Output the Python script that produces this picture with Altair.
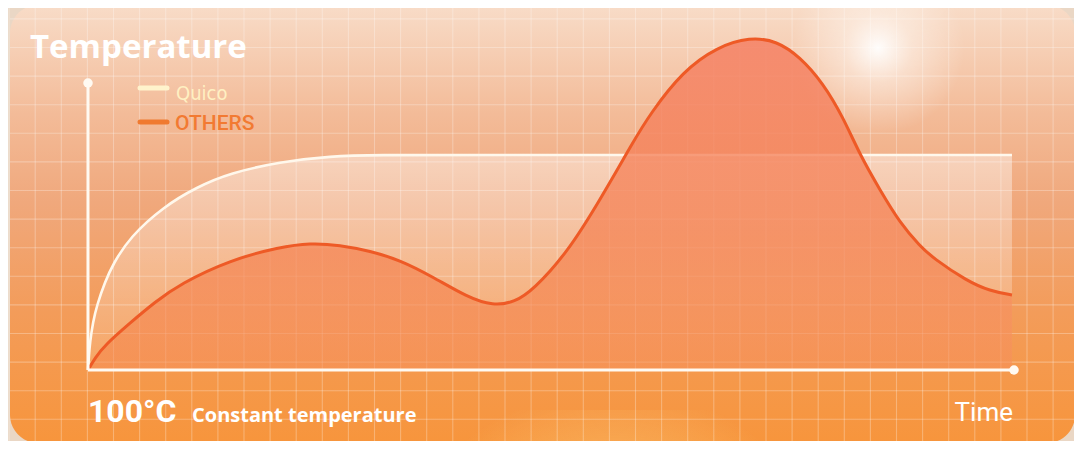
import altair as alt
import pandas as pd

# ---- data (time in % of span, temperature in arbitrary units) ----
others_t = [0, 0.756, 1.836, 4.536, 7.235, 9.935, 15.33, 20.73, 23.97, 27.21, 30.45, 33.69, 37.26,
            40.93, 43.74, 46.11, 48.06, 51.73, 55.29, 58.86, 60.69, 64.25, 67.93, 71.49, 74.41,
            76.89, 79.37, 81.53, 83.37, 85.53, 87.69, 89.85, 91.25, 94.92, 97.41, 99.78]
others_v = [0, 12, 25, 47, 68, 86, 110, 123, 127, 125, 119, 110, 93,
            73, 64, 68, 80, 117, 170, 228, 256, 299, 323, 333, 329,
            313, 287, 253, 215, 180, 147, 124, 112, 89, 79, 75]
quico_t = [0, 0.1, 0.216, 0.54, 0.97, 1.836, 2.7, 4.536, 8.1, 11.77, 15.33, 20.73, 26.13, 31.5, 40.0, 99.78]
quico_v = [0, 14, 28, 48, 65, 88, 106, 133, 163, 183, 197, 208, 214, 215, 215, 215]

grid_x = [(9.1 + 26.1 * k - 88) / 9.26 for k in range(42)]
grid_y = [370 - (133.3 + 28.6 * j) for j in range(-5, 11)]

others = pd.DataFrame({"t": others_t, "v": others_v})
quico = pd.DataFrame({"t": quico_t, "v": quico_v})
gx = pd.DataFrame({"t": grid_x})
gy = pd.DataFrame({"v": grid_y})

X = alt.X("t:Q", scale=alt.Scale(domain=[0, 100], nice=False, zero=False), axis=None)
Y = alt.Y("v:Q", scale=alt.Scale(domain=[0, 350], nice=False, zero=False), axis=None)

one = pd.DataFrame({"a": [0]})

card = alt.Chart(one).mark_rect(
    cornerRadius=28,
    fill=alt.Gradient(gradient="linear", x1=0, x2=0, y1=0, y2=1,
                      stops=[alt.GradientStop(color="#f8dcc8", offset=0),
                             alt.GradientStop(color="#f3bb98", offset=0.25),
                             alt.GradientStop(color="#f0a87c", offset=0.45),
                             alt.GradientStop(color="#f39c5a", offset=0.7),
                             alt.GradientStop(color="#f7953c", offset=1)]),
).encode(x=alt.value(-78), x2=alt.value(987), y=alt.value(-15), y2=alt.value(423))

vgrid = alt.Chart(gx).mark_rule(color="#ffffff", opacity=0.28, strokeWidth=1.1).encode(
    x=X, y=alt.value(-15), y2=alt.value(423))
hgrid = alt.Chart(gy).mark_rule(color="#ffffff", opacity=0.28, strokeWidth=1.1).encode(
    y=Y, x=alt.value(-78), x2=alt.value(987))

flare = alt.Chart(one).mark_circle(
    fill=alt.Gradient(gradient="radial", x1=0.5, y1=0.5, r1=0, x2=0.5, y2=0.5, r2=0.5,
                      stops=[alt.GradientStop(color="rgba(255,255,255,0.95)", offset=0),
                             alt.GradientStop(color="rgba(255,250,245,0.45)", offset=0.4),
                             alt.GradientStop(color="rgba(255,250,245,0)", offset=1)]),
    size=30000, opacity=1,
).encode(x=alt.value(790), y=alt.value(28))

glow = alt.Chart(one).mark_rect(
    fill=alt.Gradient(gradient="radial", x1=0.5, y1=1, r1=0, x2=0.5, y2=1, r2=0.6,
                      stops=[alt.GradientStop(color="rgba(255,240,170,0.85)", offset=0),
                             alt.GradientStop(color="rgba(255,230,150,0)", offset=1)]),
).encode(x=alt.value(330), x2=alt.value(720), y=alt.value(390), y2=alt.value(423))

quico_area = alt.Chart(quico).mark_area(
    interpolate="basis",
    fill=alt.Gradient(gradient="linear", x1=0, x2=0, y1=0, y2=1,
                      stops=[alt.GradientStop(color="rgba(255,255,255,0.42)", offset=0),
                             alt.GradientStop(color="rgba(255,255,255,0.12)", offset=1)]),
).encode(x=X, y=Y)

others_area = alt.Chart(others).mark_area(
    interpolate="basis",
    fill=alt.Gradient(gradient="linear", x1=0, x2=0, y1=0, y2=1,
                      stops=[alt.GradientStop(color="rgba(245,130,102,0.88)", offset=0),
                             alt.GradientStop(color="rgba(245,128,80,0.7)", offset=0.6),
                             alt.GradientStop(color="rgba(245,130,70,0.5)", offset=1)]),
).encode(x=X, y=Y)

quico_line = alt.Chart(quico).mark_line(interpolate="basis", color="#fff8ec", strokeWidth=2.6).encode(x=X, y=Y)
others_line = alt.Chart(others).mark_line(interpolate="basis", color="#ee5a26", strokeWidth=3).encode(x=X, y=Y)

axis_col = "#fffaf2"
yaxis = alt.Chart(one).mark_rule(color=axis_col, strokeWidth=3).encode(
    x=alt.datum(0), y=alt.datum(0), y2=alt.datum(287))
xaxis = alt.Chart(one).mark_rule(color=axis_col, strokeWidth=3).encode(
    y=alt.datum(0), x=alt.datum(0), x2=alt.datum(100))
ydot = alt.Chart(one).mark_circle(color=axis_col, opacity=1, size=90).encode(x=alt.datum(0), y=alt.datum(287))
xdot = alt.Chart(one).mark_circle(color=axis_col, opacity=1, size=90).encode(x=alt.datum(100), y=alt.datum(0))

leg1 = alt.Chart(one).mark_rule(color="#fff3cc", strokeWidth=5, strokeCap="round").encode(
    x=alt.value(52), x2=alt.value(79), y=alt.value(68))
leg2 = alt.Chart(one).mark_rule(color="#f07a30", strokeWidth=5, strokeCap="round").encode(
    x=alt.value(52), x2=alt.value(79), y=alt.value(102))


def label(text, x, y, size, color="#ffffff", weight="bold", font="Roboto", align="left"):
    return alt.Chart(one).mark_text(
        text=text, fontSize=size, fontWeight=weight, font=font, color=color,
        align=align, baseline="alphabetic",
    ).encode(x=alt.value(x), y=alt.value(y))


texts = [
    label("Temperature", -58, 38, 33, font="Open Sans"),
    label("Quico", 88, 80, 20, color="#fff0c2", weight="normal",
          font="'Liberation Sans Narrow', 'DejaVu Sans Condensed', Roboto"),
    label("OTHERS", 87, 110, 21, color="#f27a32", weight=500),
    label("100°C", 0, 402, 32),
    label("Constant temperature", 104, 402, 20, font="Open Sans"),
    label("Time", 925, 401, 26, weight="normal", align="right"),
]

chart = alt.layer(
    card, glow, vgrid, hgrid, flare, quico_area, quico_line, others_area, others_line,
    yaxis, xaxis, ydot, xdot, leg1, leg2, *texts
).properties(
    width=926, height=350,
    padding={"left": 80, "top": 12, "right": 60, "bottom": 71},
    autosize=alt.AutoSizeParams(type="none"),
    background="#ead7c5",
).configure_view(stroke=None)

chart.save("out.html", embed_options={"renderer": "svg", "actions": False})
